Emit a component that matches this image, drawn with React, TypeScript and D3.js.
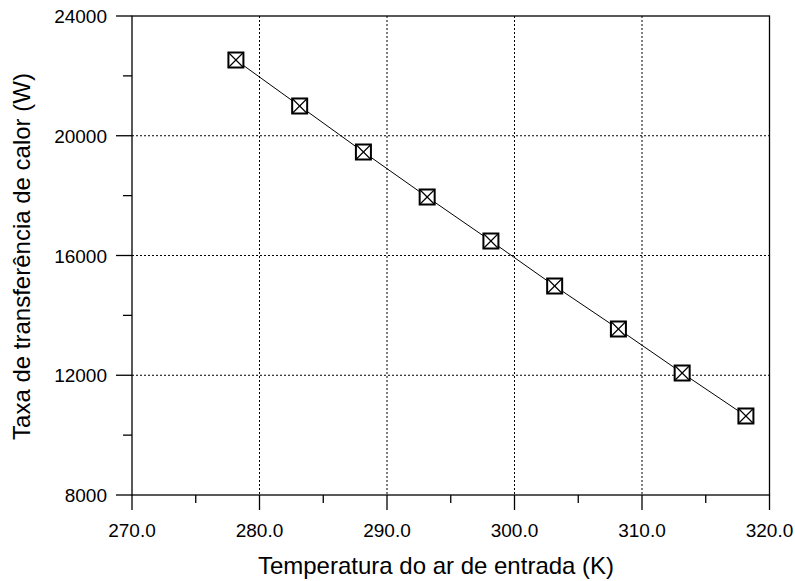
import React from "react";
import * as d3 from "d3";

const temps = [278.15, 283.15, 288.15, 293.15, 298.15, 303.15, 308.15, 313.15, 318.15];
const heat = [22530, 20994, 19457, 17954, 16484, 14981, 13545, 12075, 10639];
const xTicks = [270, 280, 290, 300, 310, 320];
const xMinor = [275, 285, 295, 305, 315];
const yTicks = [8000, 12000, 16000, 20000, 24000];
const yMinor = [10000, 14000, 18000, 22000];

export default function App() {
  const W = 795, H = 581;
  const L = 132, R = 769.5, T = 16, B = 495;
  const x = d3.scaleLinear().domain([270, 320]).range([L, R]);
  const y = d3.scaleLinear().domain([8000, 24000]).range([B, T]);
  const line = d3.line<number>().x((d, i) => x(temps[i])).y((d) => y(d));
  const font = "'Liberation Sans', Arial, sans-serif";
  const s = 7.5;
  return (
    <svg width={W} height={H} style={{ position: "absolute", left: 0, top: 0 }} fontFamily={font}>
      <rect width={W} height={H} fill="#fff" />
      {xTicks.slice(1, -1).map((t) => (
        <line key={"gx" + t} x1={x(t)} x2={x(t)} y1={T} y2={B} stroke="#000" strokeWidth={1} strokeDasharray="2,2" />
      ))}
      {yTicks.slice(1, -1).map((t) => (
        <line key={"gy" + t} x1={L} x2={R} y1={y(t)} y2={y(t)} stroke="#000" strokeWidth={1} strokeDasharray="2,2" />
      ))}
      <rect x={L} y={T} width={R - L} height={B - T} fill="none" stroke="#000" strokeWidth={1.3} />
      {xTicks.map((t) => (
        <g key={"xt" + t}>
          <line x1={x(t)} x2={x(t)} y1={B} y2={B + 15} stroke="#000" strokeWidth={1.3} />
          <text x={x(t)} y={537} textAnchor="middle" fontSize={19}>{t.toFixed(1)}</text>
        </g>
      ))}
      {xMinor.map((t) => (
        <line key={"xm" + t} x1={x(t)} x2={x(t)} y1={B} y2={B + 8} stroke="#000" strokeWidth={1.3} />
      ))}
      {yTicks.map((t) => (
        <g key={"yt" + t}>
          <line x1={L - 16} x2={L} y1={y(t)} y2={y(t)} stroke="#000" strokeWidth={1.3} />
          <text x={107} y={y(t) + 7} textAnchor="end" fontSize={19}>{t}</text>
        </g>
      ))}
      {yMinor.map((t) => (
        <line key={"ym" + t} x1={L - 9} x2={L} y1={y(t)} y2={y(t)} stroke="#000" strokeWidth={1.3} />
      ))}
      <path d={line(heat) || ""} fill="none" stroke="#000" strokeWidth={1} />
      {heat.map((v, i) => {
        const cx = x(temps[i]), cy = y(v);
        return (
          <g key={"m" + i}>
            <rect x={cx - s} y={cy - s} width={2 * s} height={2 * s} fill="#fff" stroke="#000" strokeWidth={2} />
            <line x1={cx - s} y1={cy - s} x2={cx + s} y2={cy + s} stroke="#000" strokeWidth={1.2} />
            <line x1={cx - s} y1={cy + s} x2={cx + s} y2={cy - s} stroke="#000" strokeWidth={1.2} />
          </g>
        );
      })}
      <text x={436} y={574} textAnchor="middle" fontSize={24}>Temperatura do ar de entrada (K)</text>
      <text transform={`translate(30, 256.5) rotate(-90)`} textAnchor="middle" fontSize={24}>Taxa de transferência de calor (W)</text>
    </svg>
  );
}
